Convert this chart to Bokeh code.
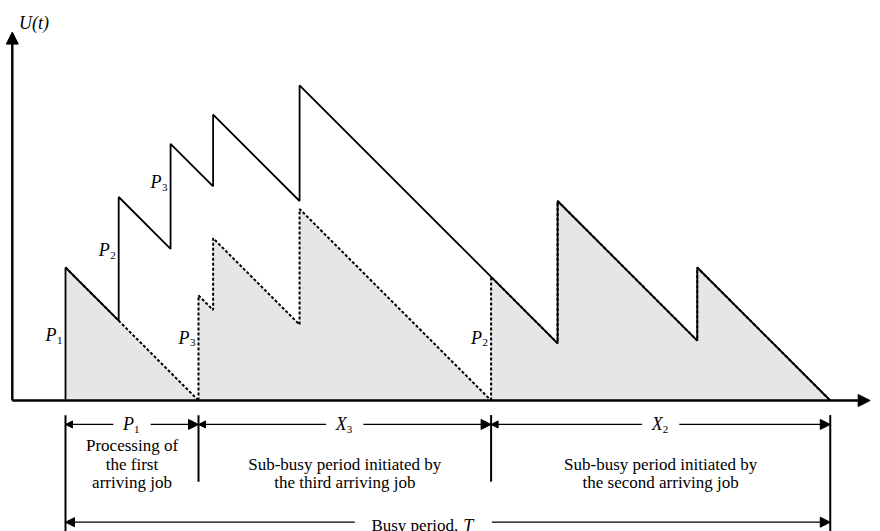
from bokeh.plotting import figure
from bokeh.models import Range1d, Arrow, NormalHead, ColumnDataSource
from bokeh.core.properties import value
from bokeh.embed import file_html
from bokeh.resources import INLINE

# ---- data: job arrival times and job sizes (work units) ----
arrival = [0.0, 4.0, 7.9, 11.1, 17.6, 37.0, 47.5]
size = [10.0, 9.3, 7.9, 5.4, 8.7, 10.7, 5.5]
job_names = ["1", "2", "3", "4", "5", "6", "7"]

n = len(arrival)
K = 13.3  # pixels per unit (layout)
W, H = 880, 531


def run_path(t, u, jobs):
    ts, us, used = [t], [u], []
    for i in jobs:
        if arrival[i] >= t + u:
            break
        u -= arrival[i] - t
        t = arrival[i]
        ts += [t, t]
        us += [u, u + size[i]]
        u += size[i]
        used.append(i)
    ts.append(t + u)
    us.append(0.0)
    return ts, us, used


# total workload
tt, tu, _ = run_path(arrival[0], size[0], list(range(1, n)))
tot_t = [arrival[0]] + tt
tot_u = [0.0] + tu

# decomposition of the busy period
p1_end = arrival[0] + size[0]
during_p1 = [i for i in range(1, n) if arrival[i] < p1_end]
later = [i for i in range(1, n) if arrival[i] >= p1_end]
subs = []
t = p1_end
for k in reversed(during_p1):
    ts, us, used = run_path(t, size[k], later)
    ts = [t] + ts
    us = [0.0] + us
    later = [i for i in later if i not in used]
    subs.append((k, t, ts[-1], ts, us))
    t = ts[-1]
busy_end = t

FONT = value("Liberation Serif")

p = figure(width=W, height=H, output_backend="svg", toolbar_location=None,
           x_range=Range1d(-65 / K, (W - 65) / K), y_range=Range1d((400 - H) / K, 400 / K),
           min_border=0, x_axis_location=None, y_axis_location=None)
p.grid.visible = False
p.outline_line_color = None
p.background_fill_color = "white"
p.border_fill_color = "white"

# shaded area: P1 then the sub-busy periods
fx = [arrival[0], arrival[0], p1_end]
fy = [0.0, size[0], 0.0]
for k, a, b, ts, us in subs:
    fx += ts
    fy += us
p.patch(fx, fy, fill_color="#e6e6e6", line_color=None)

# dashed: remainder of P1 and sub-busy periods
p.line([arrival[0], p1_end], [size[0], 0.0], line_color="black", line_width=2.0, line_dash="3 2")
for k, a, b, ts, us in subs:
    p.line(ts, us, line_color="black", line_width=2.0, line_dash="3 2")

# solid: total workload
p.line(tot_t, tot_u, line_color="black", line_width=1.8)

# axes as arrows
y_axis_t = -4.0
p.add_layout(Arrow(x_start=y_axis_t, y_start=0, x_end=y_axis_t, y_end=27.7, line_width=2.4,
                   end=NormalHead(size=12, fill_color="black", line_color="black", line_width=1)))
p.add_layout(Arrow(x_start=y_axis_t, y_start=0, x_end=60.5, y_end=0, line_width=2.4,
                   end=NormalHead(size=12, fill_color="black", line_color="black", line_width=1)))

# jump labels P_i
lab_t = [arrival[0], arrival[1], arrival[2], subs[0][1], subs[1][1]]
lab_u = [4.9, 11.3, 16.4, 4.7, 4.7]
lab_s = [job_names[0], job_names[1], job_names[2], job_names[subs[0][0]], job_names[subs[1][0]]]
src = ColumnDataSource(dict(x=lab_t, y=lab_u, P=["P"] * 5, s=lab_s))
p.text("x", "y", text="P", source=src, text_font=FONT, text_font_style="italic",
       text_font_size="18px", text_align="right", text_baseline="middle", x_offset=-9)
p.text("x", "y", text="s", source=src, text_font=FONT, text_font_size="11px",
       text_align="right", text_baseline="middle", x_offset=-3, y_offset=5)

# U(t) label
p.text([-3.5], [28.4], text=["U(t)"], text_font=FONT, text_font_style="italic",
       text_font_size="18px", text_align="left", text_baseline="middle")

# dimension lines
row1 = -1.8
row2 = -9.15
p.segment([arrival[0], p1_end, subs[0][2], busy_end], [-1.1, -1.1, -1.1, -1.1],
          [arrival[0], p1_end, subs[0][2], busy_end], [-10.0, -6.1, -6.1, -10.0],
          line_color="black", line_width=2)


def dim(a, b, c, g, y, lsize=7, rsize=10):
    p.add_layout(Arrow(x_start=c - g, y_start=y, x_end=a, y_end=y, line_width=1.3,
                       end=NormalHead(size=lsize, fill_color="black", line_color="black", line_width=1)))
    p.add_layout(Arrow(x_start=c + g, y_start=y, x_end=b, y_end=y, line_width=1.3,
                       end=NormalHead(size=rsize, fill_color="black", line_color="black", line_width=1)))


spans = [(arrival[0], p1_end, "P", job_names[0]),
         (subs[0][1], subs[0][2], "X", job_names[subs[0][0]]),
         (subs[1][1], subs[1][2], "X", job_names[subs[1][0]])]
for a, b, sym, sub in spans:
    c = (a + b) / 2
    dim(a, b, c, 1.4, row1)
    p.text([c], [row1], text=[sym], text_font=FONT, text_font_style="italic", text_font_size="18px",
           text_align="right", text_baseline="middle", x_offset=2)
    p.text([c], [row1], text=[sub], text_font=FONT, text_font_size="11px",
           text_align="left", text_baseline="middle", x_offset=2, y_offset=5)

# descriptions
desc = [((arrival[0] + p1_end) / 2, ["Processing of", "the first", "arriving job"]),
        ((subs[0][1] + subs[0][2]) / 2, ["Sub-busy period initiated by", "the third arriving job"]),
        ((subs[1][1] + subs[1][2]) / 2, ["Sub-busy period initiated by", "the second arriving job"])]
for c, lines in desc:
    ys = [-6.2 + 1.4 * (len(lines) - 1 - j) for j in range(len(lines))]
    p.text([c] * len(lines), ys, text=lines, text_font=FONT, text_font_size="17px",
           text_align="center", text_baseline="middle")

# busy period
bc = 26.9
dim(arrival[0], busy_end, bc, 5.15, row2, lsize=9, rsize=10)
p.text([bc], [-9.4], text=["Busy period,"], text_font=FONT, text_font_size="17px",
       text_align="right", text_baseline="middle", x_offset=35)
p.text([bc], [-9.4], text=["T"], text_font=FONT, text_font_style="italic", text_font_size="18px",
       text_align="left", text_baseline="middle", x_offset=40)

open("out.html", "w").write(file_html(p, INLINE))
